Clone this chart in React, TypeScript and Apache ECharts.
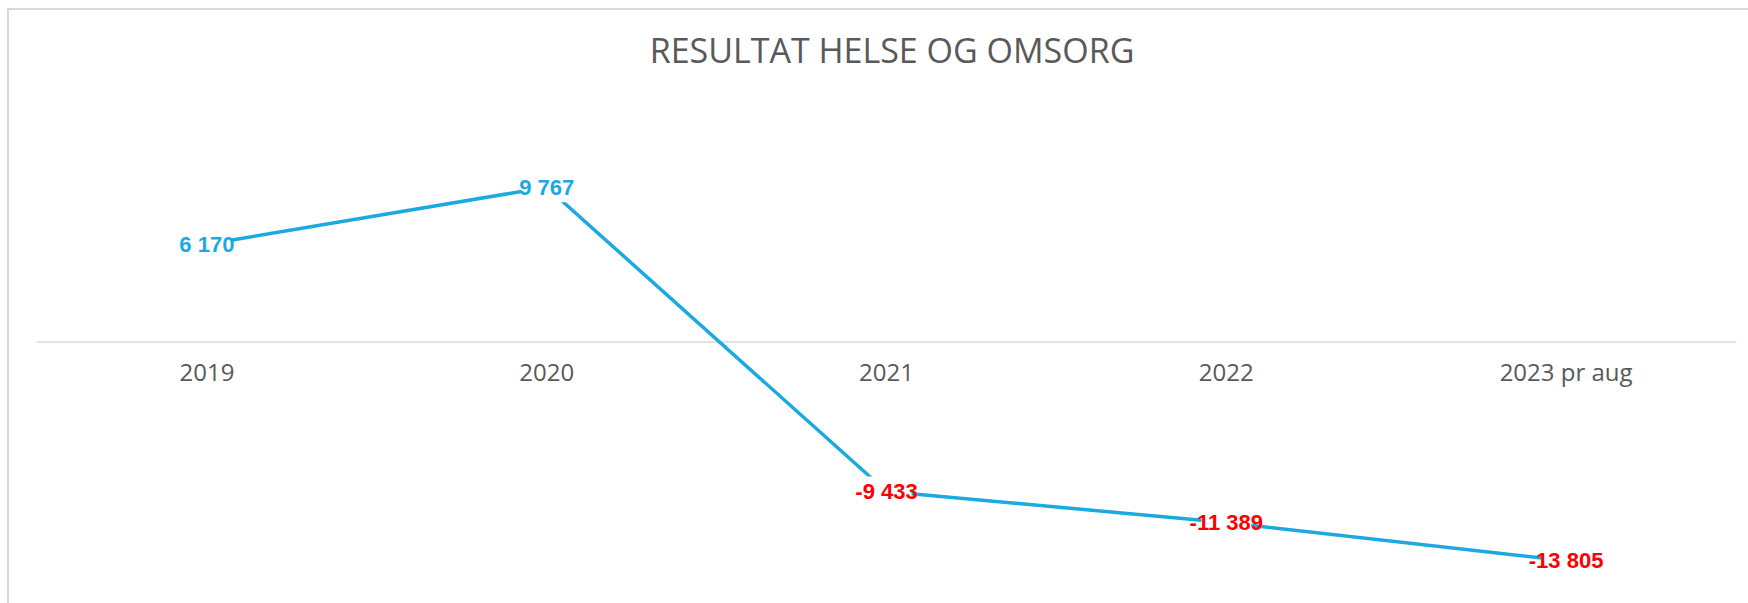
import React, { useEffect, useRef } from "react";
import * as echarts from "echarts";

const titleText = "RESULTAT HELSE OG OMSORG";
const categories = ["2019", "2020", "2021", "2022", "2023 pr aug"];
const results = [6170, 9767, -9433, -11389, -13805];
const positiveColor = "#1BA9E1";
const negativeColor = "#FF0000";

function fmt(v: number): string {
  const s = Math.abs(v).toString().replace(/\B(?=(\d{3})+(?!\d))/g, " ");
  return (v < 0 ? "-" : "") + s;
}

export default function App() {
  const ref = useRef<HTMLDivElement>(null);
  useEffect(() => {
    if (!ref.current) return;
    const chart = echarts.init(ref.current, undefined, { renderer: "svg" });
    const yMin = -15000;
    const yMax = 10000;
    const gridTop = 183.5;
    const gridBottom = 23.25;
    const plotH = 603 - gridTop - gridBottom;
    const zeroY = gridTop + (yMax / (yMax - yMin)) * plotH;
    chart.setOption({
      animation: false,
      backgroundColor: "#ffffff",
      title: {
        text: titleText,
        left: 887,
        top: 28,
        textAlign: "center",
        textStyle: {
          fontFamily: "Open Sans",
          fontWeight: "normal",
          fontSize: 34,
          color: "#595959",
        },
      },
      graphic: [
        {
          type: "rect",
          shape: { x: 8, y: 9, width: 2000, height: 800 },
          style: { fill: "none", stroke: "#d9d9d9", lineWidth: 2 },
          silent: true,
        },
      ],
      grid: [
        {
          left: 37,
          right: 12,
          top: gridTop,
          bottom: gridBottom,
          containLabel: false,
          outerBoundsMode: "none",
        },
        {
          left: 37,
          right: 12,
          top: gridTop,
          height: zeroY - gridTop,
          containLabel: false,
          outerBoundsMode: "none",
        },
      ],
      xAxis: [
        {
          type: "category",
          gridIndex: 0,
          data: categories,
          boundaryGap: true,
          axisLine: { onZero: true, lineStyle: { color: "#d9d9d9", width: 1.5 } },
          axisTick: { show: false },
          axisLabel: { show: false },
          splitLine: { show: false },
        },
        {
          type: "category",
          gridIndex: 1,
          data: categories,
          boundaryGap: true,
          axisLine: { show: false },
          axisTick: { show: false },
          axisLabel: {
            fontFamily: "Open Sans",
            fontSize: 24,
            lineHeight: 24,
            color: "#595959",
            margin: 17,
          },
          splitLine: { show: false },
        },
      ],
      yAxis: [
        {
          type: "value",
          gridIndex: 0,
          min: yMin,
          max: yMax,
          interval: 5000,
          show: false,
          splitLine: { show: false },
        },
        {
          type: "value",
          gridIndex: 1,
          min: 0,
          max: 10000,
          interval: 5000,
          show: false,
          splitLine: { show: false },
        },
      ],
      series: [
        {
          type: "line",
          xAxisIndex: 0,
          yAxisIndex: 0,
          data: results.map((v) => ({
            value: v,
            label: { color: v < 0 ? negativeColor : positiveColor },
          })),
          symbol: "circle",
          symbolSize: 1,
          itemStyle: { color: "rgba(0,0,0,0)" },
          lineStyle: { color: positiveColor, width: 3.5 },
          label: {
            show: true,
            position: "inside",
            formatter: (p: any) => fmt(p.value),
            fontFamily: "Liberation Sans",
            fontWeight: "bold",
            fontSize: 22,
            width: 50,
            height: 30,
            lineHeight: 30,
            overflow: "none",
            align: "center",
            verticalAlign: "middle",
            backgroundColor: "#ffffff",
          },
        },
      ],
    });
    return () => chart.dispose();
  }, []);
  return (
    <div
      ref={ref}
      style={{ position: "fixed", left: 0, top: 0, width: 1748, height: 603 }}
    />
  );
}
